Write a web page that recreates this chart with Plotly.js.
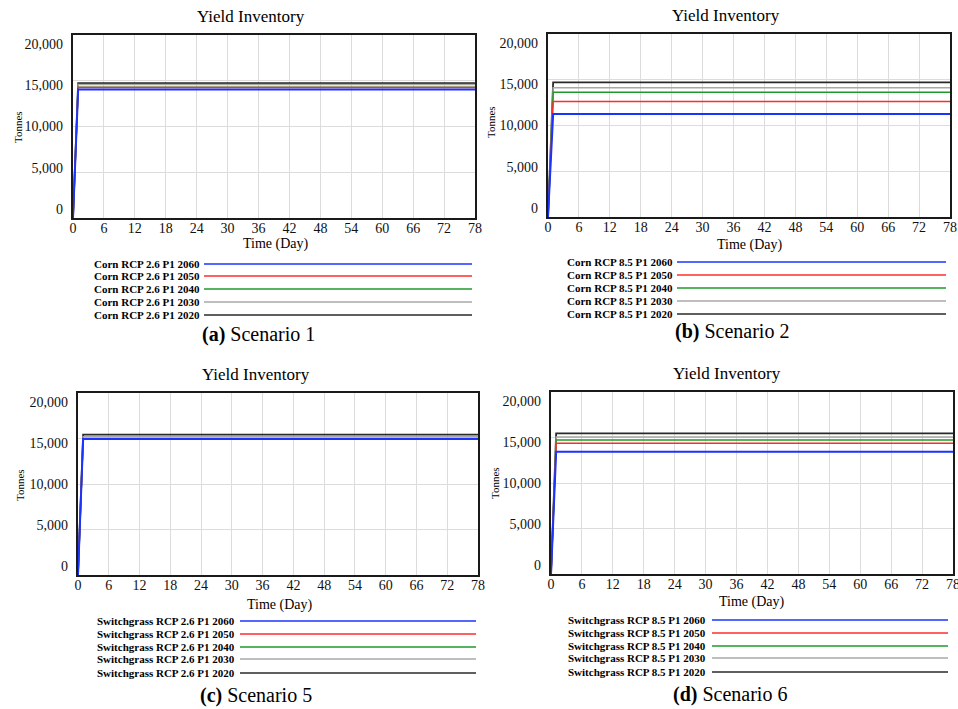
<!DOCTYPE html>
<html>
<head>
<meta charset="utf-8">
<script src="https://cdn.plot.ly/plotly-3.0.1.min.js"></script>
<style>
html, body { margin: 0; padding: 0; background: #ffffff; }
#chart { width: 958px; height: 709px; }
</style>
</head>
<body>
<div id="chart"></div>
<script>
// ---------------- DATA ----------------
const days = [0, 1, 78];
const xTickVals = [0, 6, 12, 18, 24, 30, 36, 42, 48, 54, 60, 66, 72, 78];
const yTickVals = [0, 5000, 10000, 15000, 20000];
const yTickText = ['0', '5,000', '10,000', '15,000', '20,000'];

const chartTitle = 'Yield Inventory';
const xTitle = 'Time (Day)';
const yTitle = 'Tonnes';

// legend names, top to bottom
const sc1Names = ['Corn RCP 2.6 P1 2060', 'Corn RCP 2.6 P1 2050', 'Corn RCP 2.6 P1 2040', 'Corn RCP 2.6 P1 2030', 'Corn RCP 2.6 P1 2020'];
const sc2Names = ['Corn RCP 8.5 P1 2060', 'Corn RCP 8.5 P1 2050', 'Corn RCP 8.5 P1 2040', 'Corn RCP 8.5 P1 2030', 'Corn RCP 8.5 P1 2020'];
const sc5Names = ['Switchgrass RCP 2.6 P1 2060', 'Switchgrass RCP 2.6 P1 2050', 'Switchgrass RCP 2.6 P1 2040', 'Switchgrass RCP 2.6 P1 2030', 'Switchgrass RCP 2.6 P1 2020'];
const sc6Names = ['Switchgrass RCP 8.5 P1 2060', 'Switchgrass RCP 8.5 P1 2050', 'Switchgrass RCP 8.5 P1 2040', 'Switchgrass RCP 8.5 P1 2030', 'Switchgrass RCP 8.5 P1 2020'];

// Scenario 1 (Corn RCP 2.6)
const sc1_2060 = [0, 14050, 14050];
const sc1_2050 = [0, 14250, 14250];
const sc1_2040 = [0, 14300, 14300];
const sc1_2030 = [0, 14600, 14600];
const sc1_2020 = [0, 14750, 14750];
// Scenario 2 (Corn RCP 8.5)
const sc2_2060 = [0, 11270, 11270];
const sc2_2050 = [0, 12610, 12610];
const sc2_2040 = [0, 13640, 13640];
const sc2_2030 = [0, 14120, 14120];
const sc2_2020 = [0, 14720, 14720];
// Scenario 5 (Switchgrass RCP 2.6)
const sc5_2060 = [0, 14950, 14950];
const sc5_2050 = [0, 14980, 14980];
const sc5_2040 = [0, 15000, 15000];
const sc5_2030 = [0, 15200, 15200];
const sc5_2020 = [0, 15420, 15420];
// Scenario 6 (Switchgrass RCP 8.5)
const sc6_2060 = [0, 13440, 13440];
const sc6_2050 = [0, 14360, 14360];
const sc6_2040 = [0, 14730, 14730];
const sc6_2030 = [0, 15050, 15050];
const sc6_2020 = [0, 15460, 15460];

const captionLetters = ['(a)', '(b)', '(c)', '(d)'];
const captionTexts = ['Scenario 1', 'Scenario 2', 'Scenario 5', 'Scenario 6'];

// ---------------- STYLE / LAYOUT ----------------
const W = 958, H = 709;
const fx = px => px / W;
const fy = py => 1 - py / H;
const serif = 'Liberation Serif, Times New Roman, serif';
const seriesColors = ['#1a33ff', '#ff2b2b', '#1f9a2a', '#a8a8a8', '#2a2a2a'];
const seriesWidths = [2, 1.5, 1.5, 1.5, 1.8];

const panels = [
  { box: [73, 35, 475, 218], title: [251, 17], caption: [258, 335], tonnes: [18, 127], time: [276, 244],
    rows: [264, 276, 289, 302, 315], textEnd: 202, lineStart: 204, lineEnd: 472,
    names: sc1Names, series: [sc1_2060, sc1_2050, sc1_2040, sc1_2030, sc1_2020] },
  { box: [548, 34, 950, 217], title: [726, 16], caption: [732, 332], tonnes: [491, 122], time: [750, 245],
    rows: [262, 275, 288, 301, 314], textEnd: 675, lineStart: 677, lineEnd: 946,
    names: sc2Names, series: [sc2_2060, sc2_2050, sc2_2040, sc2_2030, sc2_2020] },
  { box: [78, 393, 478, 575], title: [256, 375], caption: [256, 695], tonnes: [20, 485], time: [280, 605],
    rows: [621, 634, 647, 659, 673], textEnd: 237, lineStart: 240, lineEnd: 476,
    names: sc5Names, series: [sc5_2060, sc5_2050, sc5_2040, sc5_2030, sc5_2020] },
  { box: [551, 392, 953, 574], title: [727, 374], caption: [730, 694], tonnes: [495, 483], time: [752, 602],
    rows: [620, 633, 646, 658, 672], textEnd: 708, lineStart: 712, lineEnd: 948,
    names: sc6Names, series: [sc6_2060, sc6_2050, sc6_2040, sc6_2030, sc6_2020] }
];

const traces = [];
const layout = {
  width: W, height: H,
  margin: { l: 0, r: 0, t: 0, b: 0 },
  paper_bgcolor: '#ffffff',
  plot_bgcolor: '#ffffff',
  showlegend: false,
  annotations: [],
  shapes: []
};

panels.forEach((p, i) => {
  const n = i + 1;
  const xa = n === 1 ? 'x' : 'x' + n;
  const ya = n === 1 ? 'y' : 'y' + n;
  const xKey = n === 1 ? 'xaxis' : 'xaxis' + n;
  const yKey = n === 1 ? 'yaxis' : 'yaxis' + n;
  const lblKey = 'yaxis' + (n + 4);
  const lblId = 'y' + (n + 4);
  const [x0, y0, x1, y1] = p.box;

  layout[xKey] = {
    domain: [fx(x0), fx(x1)], anchor: ya, range: [0, 78],
    tickmode: 'array', tickvals: xTickVals,
    showgrid: true, gridcolor: '#dcdcdc', gridwidth: 1,
    zeroline: false, showline: true, linecolor: '#1a1a1a', linewidth: 2, mirror: true,
    ticks: '', ticklabelstandoff: -4, ticklabeloverflow: 'allow',
    tickfont: { family: serif, size: 14, color: '#111' }, fixedrange: true
  };
  layout[yKey] = {
    domain: [fy(y1), fy(y0)], anchor: xa, range: [0, 20000],
    tickmode: 'array', tickvals: yTickVals, showticklabels: false,
    showgrid: true, gridcolor: '#dcdcdc', gridwidth: 1,
    zeroline: false, showline: true, linecolor: '#1a1a1a', linewidth: 2, mirror: true,
    ticks: '', fixedrange: true
  };
  // label axis: Vensim-style compressed tick labels
  layout[lblKey] = {
    overlaying: ya, anchor: xa, side: 'left', range: [-1100, 21100],
    tickmode: 'array', tickvals: yTickVals, ticktext: yTickText,
    showgrid: false, zeroline: false, showline: false, ticks: '',
    ticklabelstandoff: 9,
    tickfont: { family: serif, size: 14, color: '#111' }, fixedrange: true
  };
  // invisible copy of a series so the label axis is drawn
  traces.push({ x: days, y: p.series[4], xaxis: xa, yaxis: lblId, mode: 'lines',
    line: { width: 0, color: 'rgba(0,0,0,0)' }, hoverinfo: 'skip', showlegend: false });

  // series: draw 2020 first, 2060 last (on top)
  for (let k = 4; k >= 0; k--) {
    traces.push({
      x: days, y: p.series[k], xaxis: xa, yaxis: ya, mode: 'lines', name: p.names[k],
      line: { color: seriesColors[k], width: seriesWidths[k] }, showlegend: false
    });
  }

  layout.annotations.push({ text: chartTitle, xref: 'paper', yref: 'paper', x: fx(p.title[0]), y: fy(p.title[1]),
    xanchor: 'center', yanchor: 'middle', showarrow: false, font: { family: serif, size: 17, color: '#000' } });
  layout.annotations.push({ text: yTitle, xref: 'paper', yref: 'paper', x: fx(p.tonnes[0]), y: fy(p.tonnes[1]),
    xanchor: 'center', yanchor: 'middle', textangle: -90, showarrow: false, font: { family: serif, size: 11, color: '#000' } });
  layout.annotations.push({ text: xTitle, xref: 'paper', yref: 'paper', x: fx(p.time[0]), y: fy(p.time[1]),
    xanchor: 'center', yanchor: 'middle', showarrow: false, font: { family: serif, size: 14, color: '#000' } });
  layout.annotations.push({ text: '<b>' + captionLetters[i] + '</b> ' + captionTexts[i], xref: 'paper', yref: 'paper',
    x: fx(p.caption[0]), y: fy(p.caption[1]), xanchor: 'center', yanchor: 'middle', showarrow: false,
    font: { family: serif, size: 20, color: '#000' } });
  p.names.forEach((nm, k) => {
    layout.annotations.push({ text: '<b>' + nm + '</b>', xref: 'paper', yref: 'paper', x: fx(p.textEnd), y: fy(p.rows[k]),
      xanchor: 'right', yanchor: 'middle', showarrow: false, font: { family: serif, size: 11, color: '#000' } });
    layout.shapes.push({ type: 'line', xref: 'paper', yref: 'paper', x0: fx(p.lineStart), x1: fx(p.lineEnd),
      y0: fy(p.rows[k]), y1: fy(p.rows[k]), line: { color: seriesColors[k], width: 1.5 } });
  });
});

Plotly.newPlot('chart', traces, layout, { displayModeBar: false, staticPlot: true });
</script>
</body>
</html>
